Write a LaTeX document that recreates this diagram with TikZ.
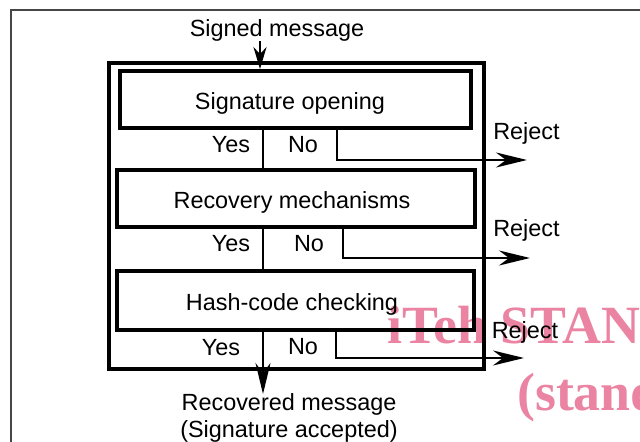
\documentclass[tikz,border=0pt]{standalone}
\usepackage{fontspec}
\setmainfont{Liberation Sans}
\newfontfamily\wmfont{Liberation Serif}
\usetikzlibrary{arrows.meta,calc}
\definecolor{wmpink}{RGB}{234,132,162}
\definecolor{rule}{RGB}{70,70,70}
\begin{document}
\begin{tikzpicture}[x=1bp,y=-1bp,
  lbl/.style={inner sep=0pt, anchor=base, font=\fontsize{23.5}{28}\selectfont},
  stage/.style={draw, line width=3.8bp, inner sep=0pt},
  casing/.style={draw, line width=3.3bp, inner sep=0pt},
  flow/.style={line width=2.7bp},
  bigtip/.style={-{Stealth[length=31bp,width=15bp,inset=10bp]}},
  smalltip/.style={-{Stealth[length=22bp,width=13bp,inset=7bp]}},
  wm/.style={inner sep=0pt, anchor=base west, text=wmpink,
             font=\wmfont\bfseries\fontsize{54}{60}\selectfont}
]
\useasboundingbox (0,0) rectangle (640,442);

% watermark, cut at the page edge
\begin{scope}
  \clip (0,0) rectangle (640,442);
  \node[wm] (wm1) at (387,343) {iTeh STANDARDS PREVIEW};
  \node[wm] (wm2) at (517,410) {(standards.iteh.ai)};
\end{scope}

% page rule (left and top)
\draw[rule, line width=1.2bp] (11,442) -- (11,10) -- (640,10);

% enclosing block
\node[casing, minimum width=375bp, minimum height=306bp] (outer) at (296.5,216) {};

% processing stages
\node[stage, minimum width=351bp, minimum height=57bp] (b1) at (295.5,99.5) {};
\node[stage, minimum width=358bp, minimum height=57bp] (b2) at (296,198.5) {};
\node[stage, minimum width=357bp, minimum height=59bp] (b3) at (295.5,300.5) {};

\node[lbl] (t1) at (290,110) {Signature opening};
\node[lbl] (t2) at (292,209) {Recovery mechanisms};
\node[lbl] (t3) at (292,311) {Hash-code checking};

% input and output texts
\node[lbl] (in) at (277,37) {Signed message};
\node[lbl, align=center, anchor=north, font=\fontsize{23.5}{27}\selectfont] (out) at (289,393)
  {Recovered message\\(Signature accepted)};

% decision labels
\node[lbl] (y1) at (231,153) {Yes};
\node[lbl] (n1) at (303,153) {No};
\node[lbl] (y2) at (231,252) {Yes};
\node[lbl] (n2) at (309,252) {No};
\node[lbl] (y3) at (221,355) {Yes};
\node[lbl] (n3) at (303,354) {No};

\node[lbl] (rj1) at (526.5,140) {Reject};
\node[lbl] (rj2) at (526.5,237) {Reject};
\node[lbl] (rj3) at (525,338) {Reject};

% helper coordinates
\coordinate (spine) at (263,0);
\coordinate (entry) at (260,41);
\coordinate (done) at (263,394);
\coordinate (nx1) at (337,0);
\coordinate (nx2) at (343,0);
\coordinate (nx3) at (336,0);
\coordinate (r1) at (527,160);
\coordinate (r2) at (530,258);
\coordinate (r3) at (524,358);

% main flow
\draw[flow, smalltip] (entry) -- (b1.north -| entry);
\draw[flow] (b1.south -| spine) -- (b2.north -| spine);
\draw[flow] (b2.south -| spine) -- (b3.north -| spine);
\draw[flow, bigtip] (b3.south -| spine) -- (done);

% rejection branches
\draw[flow, bigtip] (b1.south -| nx1) |- (r1);
\draw[flow, bigtip] (b2.south -| nx2) |- (r2);
\draw[flow, bigtip] (b3.south -| nx3) |- (r3);
\end{tikzpicture}
\end{document}
